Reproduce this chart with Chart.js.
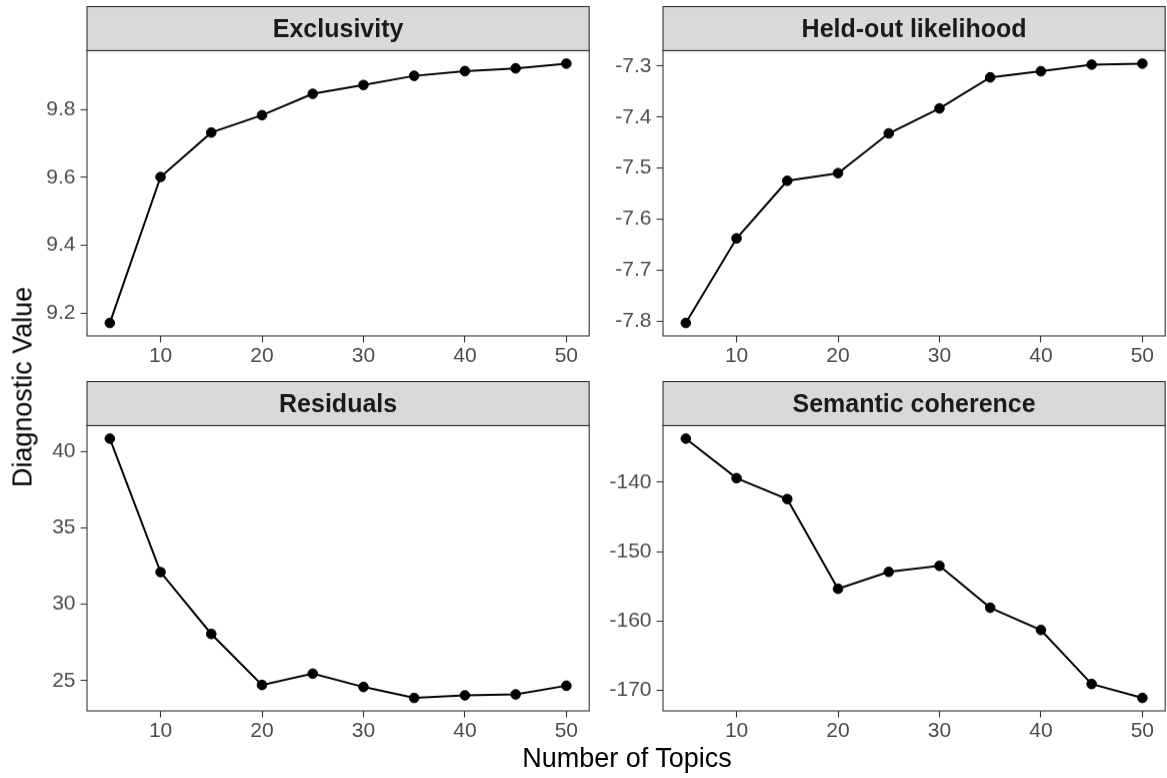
<!DOCTYPE html>
<html>
<head>
<meta charset="utf-8">
<script src="https://cdn.jsdelivr.net/npm/chart.js@4.4.1/dist/chart.umd.min.js"></script>
<style>
  html, body { margin: 0; padding: 0; background: #fff; overflow: hidden; }
  body { width: 1167px; height: 778px; position: relative; font-family: "Liberation Sans", Arial, sans-serif; }
  canvas { position: absolute; }
  .axis-title { position: absolute; font-size: 27px; line-height: 27px; color: #000; white-space: nowrap; }
  #xTitle { left: 627px; top: 745px; transform: translateX(-50%); }
  #yTitle { left: 23px; top: 387px; transform: translate(-50%, -50%) rotate(-90deg); }
</style>
</head>
<body>
<canvas id="c0"></canvas>
<canvas id="c1"></canvas>
<canvas id="c2"></canvas>
<canvas id="c3"></canvas>
<div class="axis-title" id="xTitle">Number of Topics</div>
<div class="axis-title" id="yTitle">Diagnostic Value</div>
<script>
// number of topics (K) tried by the model search
const topics = [5, 10, 15, 20, 25, 30, 35, 40, 45, 50];

// diagnostics for each K
const exclusivity = [9.171, 9.601, 9.732, 9.783, 9.846, 9.872, 9.899, 9.913, 9.921, 9.935];
const heldout = [-7.804, -7.638, -7.525, -7.510, -7.432, -7.383, -7.322, -7.310, -7.297, -7.295];
const residuals = [40.85, 32.11, 28.06, 24.72, 25.46, 24.59, 23.87, 24.04, 24.10, 24.67];
const semcoh = [-133.73, -139.43, -142.44, -155.36, -152.92, -152.06, -158.09, -161.29, -169.08, -171.09];

// axis breaks
const xTicks = [10, 20, 30, 40, 50];
const exclTicks = [9.2, 9.4, 9.6, 9.8];
const heldTicks = [-7.8, -7.7, -7.6, -7.5, -7.4, -7.3];
const residTicks = [25, 30, 35, 40];
const semTicks = [-170, -160, -150, -140];

const FONT = '"Liberation Sans", Arial, sans-serif';

// facet grid geometry (2 x 2)
const colLeft = [87, 663];
const rowTop = [6, 381];
const panelW = 506, stripH = 44.5, plotH = 285, yAxisW = 80, xAxisH = 40;

const panels = [
  { id: 'c0', title: 'Exclusivity', values: exclusivity, ticks: exclTicks, digits: 1, col: 0, row: 0 },
  { id: 'c1', title: 'Held-out likelihood', values: heldout, ticks: heldTicks, digits: 1, col: 1, row: 0 },
  { id: 'c2', title: 'Residuals', values: residuals, ticks: residTicks, digits: 0, col: 0, row: 1 },
  { id: 'c3', title: 'Semantic coherence', values: semcoh, ticks: semTicks, digits: 0, col: 1, row: 1 }
];

// ggplot-style 5% expansion of the data range
function padRange(vals) {
  const lo = Math.min(...vals), hi = Math.max(...vals);
  const d = (hi - lo) * 0.05;
  return [lo - d, hi + d];
}

// grey strip behind the facet title + border round the panel
const facetFrame = {
  id: 'facetFrame',
  beforeDraw(chart) {
    const { ctx, chartArea: a } = chart;
    ctx.save();
    ctx.fillStyle = '#D9D9D9';
    ctx.fillRect(a.left, 0.5, a.width, a.top - 0.5);
    ctx.strokeStyle = '#333333';
    ctx.lineWidth = 1.1;
    ctx.strokeRect(a.left, 0.5, a.width, a.top - 0.5);
    ctx.restore();
  },
  afterDatasetsDraw(chart) {
    const { ctx, chartArea: a } = chart;
    ctx.save();
    ctx.strokeStyle = '#333333';
    ctx.lineWidth = 1.1;
    ctx.strokeRect(a.left, a.top, a.width, a.height);
    ctx.restore();
  }
};

const xRange = padRange(topics);

panels.forEach(p => {
  const canvas = document.getElementById(p.id);
  const w = yAxisW + panelW + 2;
  const h = stripH + plotH + xAxisH;
  canvas.width = w;
  canvas.height = h;
  canvas.style.left = (colLeft[p.col] - yAxisW) + 'px';
  canvas.style.top = rowTop[p.row] + 'px';
  canvas.style.width = w + 'px';
  canvas.style.height = h + 'px';

  const yRange = padRange(p.values);

  new Chart(canvas, {
    type: 'line',
    data: {
      datasets: [{
        data: topics.map((t, i) => ({ x: t, y: p.values[i] })),
        borderColor: '#000',
        borderWidth: 2,
        pointRadius: 4.8,
        pointBackgroundColor: '#000',
        pointBorderColor: '#000',
        pointBorderWidth: 1,
        tension: 0
      }]
    },
    options: {
      responsive: false,
      animation: false,
      events: [],
      layout: { padding: { top: 0, left: 0, right: 2, bottom: 0 } },
      plugins: {
        legend: { display: false },
        tooltip: { enabled: false },
        title: {
          display: true,
          text: p.title,
          fullSize: false,
          color: '#1A1A1A',
          font: { family: FONT, size: 25, weight: 'bold', lineHeight: 1.2 },
          padding: { top: 8.75, bottom: 5.75 }
        }
      },
      scales: {
        x: {
          type: 'linear',
          min: xRange[0],
          max: xRange[1],
          afterBuildTicks: s => { s.ticks = xTicks.map(v => ({ value: v })); },
          afterFit: s => { s.height = xAxisH; },
          grid: { drawOnChartArea: false, tickLength: 6.5, tickColor: '#333333', tickWidth: 1.1 },
          border: { display: false },
          ticks: { color: '#4D4D4D', font: { family: FONT, size: 21 }, padding: 1.5, maxRotation: 0, autoSkip: false }
        },
        y: {
          type: 'linear',
          min: yRange[0],
          max: yRange[1],
          afterBuildTicks: s => { s.ticks = p.ticks.map(v => ({ value: v })); },
          afterFit: s => { s.width = yAxisW; },
          grid: { drawOnChartArea: false, tickLength: 6.5, tickColor: '#333333', tickWidth: 1.1 },
          border: { display: false },
          ticks: {
            color: '#4D4D4D',
            font: { family: FONT, size: 21 },
            padding: 5,
            autoSkip: false,
            callback: v => v.toFixed(p.digits)
          }
        }
      }
    },
    plugins: [facetFrame]
  });
});
</script>
</body>
</html>
